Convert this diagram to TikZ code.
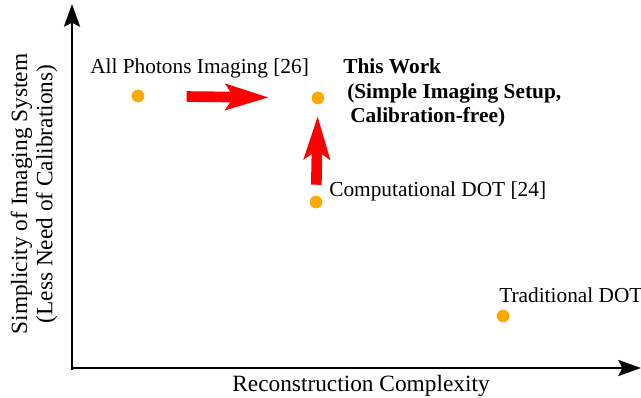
\documentclass[tikz,border=0pt]{standalone}
\usepackage{fontspec}
\setmainfont{Liberation Serif}
\usetikzlibrary{arrows.meta}
\definecolor{dotorange}{RGB}{255,168,0}
\tikzstyle{dot} = [circle, fill=dotorange, inner sep=0pt, minimum size=9.5pt]
\tikzstyle{lbl} = [inner sep=0pt, anchor=base west, font=\fontsize{16}{18}\selectfont]
\tikzstyle{axislbl} = [inner sep=0pt, font=\fontsize{17.5}{19}\selectfont]
\tikzstyle{axis} = [line width=2.2pt, -{Stealth[length=17pt, width=12pt, inset=3pt]}]
\tikzstyle{bigarrow} = [red, line width=8pt, -{Stealth[length=32pt, width=19pt, inset=6pt]}]

\begin{document}
\begin{tikzpicture}[x=0.75pt, y=-0.75pt]
\useasboundingbox (0,0) rectangle (641,398);
\coordinate (ytop) at (72,4);
\coordinate (xend) at (641,368);
\draw [axis] (72,370) -- (ytop);
\draw [axis] (71,368) -- (xend);

\node (ylabel) [axislbl, rotate=90, align=center] at (34,194) {Simplicity of Imaging System\\(Less Need of Calibrations)};
\node (xlabel) [axislbl, anchor=base] at (361,391) {Reconstruction Complexity};

\node (api) [dot] at (138,96) {};
\node (tw) [dot] at (318,98) {};
\node (cdot) [dot] at (316,202) {};
\node (tdot) [dot] at (503,316) {};

\node (apilbl) [lbl] at (90,74) {All Photons Imaging [26]};
\node (twlbl1) [lbl] at (343,74) {\textbf{This Work}};
\node (twlbl2) [lbl] at (347,99) {\textbf{(Simple Imaging Setup,}};
\node (twlbl3) [lbl] at (350,123) {\textbf{Calibration-free)}};
\node (cdotlbl) [lbl] at (329,197) {Computational DOT [24]};
\node (tdotlbl) [lbl] at (499,302) {Traditional DOT};

\draw [bigarrow, shorten <=31.5pt, shorten >=32pt] (api) -- (tw);
\draw [bigarrow, shorten <=8pt, shorten >=8.5pt] (cdot) -- (tw);
\end{tikzpicture}
\end{document}
